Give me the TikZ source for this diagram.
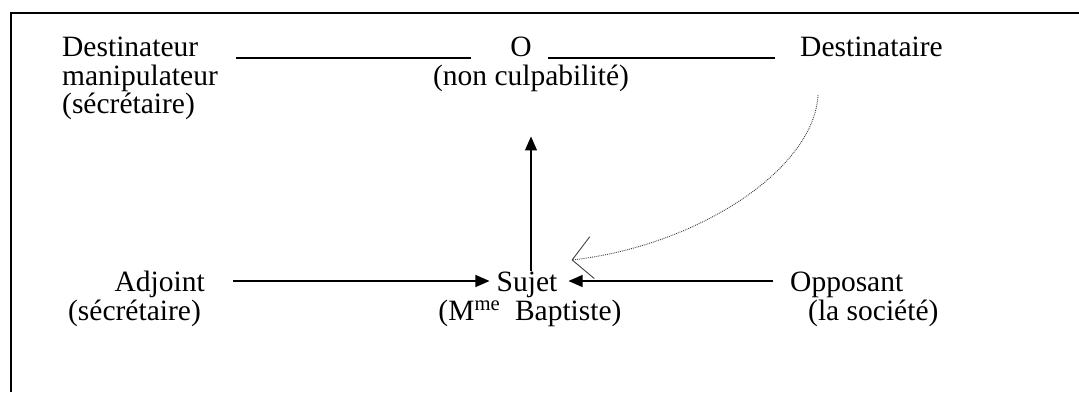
\documentclass[tikz,border=0pt]{standalone}
\usepackage{fontspec}
\setmainfont{Liberation Serif}
\usetikzlibrary{arrows.meta}

\begin{document}
\begin{tikzpicture}[
    x=1pt, y=-1pt,
    lbl/.style={inner sep=0pt, font=\fontsize{29.5}{30}\selectfont},
    rule/.style={line width=1.8pt},
    arr/.style={-{Triangle[length=14pt,width=12pt]}, line width=1.1pt},
    dotarr/.style={-{Straight Barb[length=20pt,width=42pt]}, densely dotted,
        line width=0.9pt, black!75},
]

\useasboundingbox (0,0) rectangle (1079,392);

%% frame (top and left edges only)
\draw[line width=2pt] (11,392) -- (11,13) -- (1079,13);

%% Row 1: destinateur, objet, destinataire
\node[lbl, anchor=base west] (dest)   at (62,56)  {Destinateur};
\node[lbl, anchor=base west] (manip)  at (62,85)  {manipulateur};
\node[lbl, anchor=base west] (secr)   at (62,113) {(sécrétaire)};
\node[lbl, anchor=base]      (obj)    at (521,56) {O};
\node[lbl, anchor=base]      (culp)   at (531,85) {(non culpabilité)};
\node[lbl, anchor=base west] (dtaire) at (800,56) {Destinataire};

%% Row 2: adjoint, sujet, opposant
\node[lbl, anchor=base east] (adj)    at (205,291) {Adjoint};
\node[lbl, anchor=base east] (adjsec) at (201,320) {(sécrétaire)};
\node[lbl, anchor=base]      (sujet)  at (527,291) {Sujet};
\node[lbl, anchor=base]      (mme)    at (530,320) {(M\textsuperscript{me}\ \ Baptiste)};
\node[lbl, anchor=base west] (opp)    at (790,291) {Opposant};
\node[lbl, anchor=base west] (oppsoc) at (808,320) {(la société)};

%% lines of the top axis
\draw[rule] ([xshift=38pt, yshift=-2pt]dest.base east) -- ([xshift=-39pt, yshift=-2pt]obj.base west);
\draw[rule] ([xshift=16pt, yshift=-2pt]obj.base east) -- ([xshift=-25pt, yshift=-2pt]dtaire.base west);

%% arrows to the subject
\draw[arr] ([xshift=28pt, yshift=10pt]adj.base east) -- ([xshift=-7pt, yshift=10pt]sujet.base west);
\draw[arr] ([xshift=-17pt, yshift=10pt]opp.base west) -- ([xshift=11pt, yshift=10pt]sujet.base east);
\draw[arr] ([xshift=4pt]sujet.north) -- ([yshift=-45pt]culp.south);

%% destinataire back to the subject
\draw[dotarr] ([xshift=18pt, yshift=-39pt]dtaire.base west)
    .. controls +(-4,75) and +(125,-14) .. ([xshift=14pt, yshift=31pt]sujet.base east);

\end{tikzpicture}
\end{document}
